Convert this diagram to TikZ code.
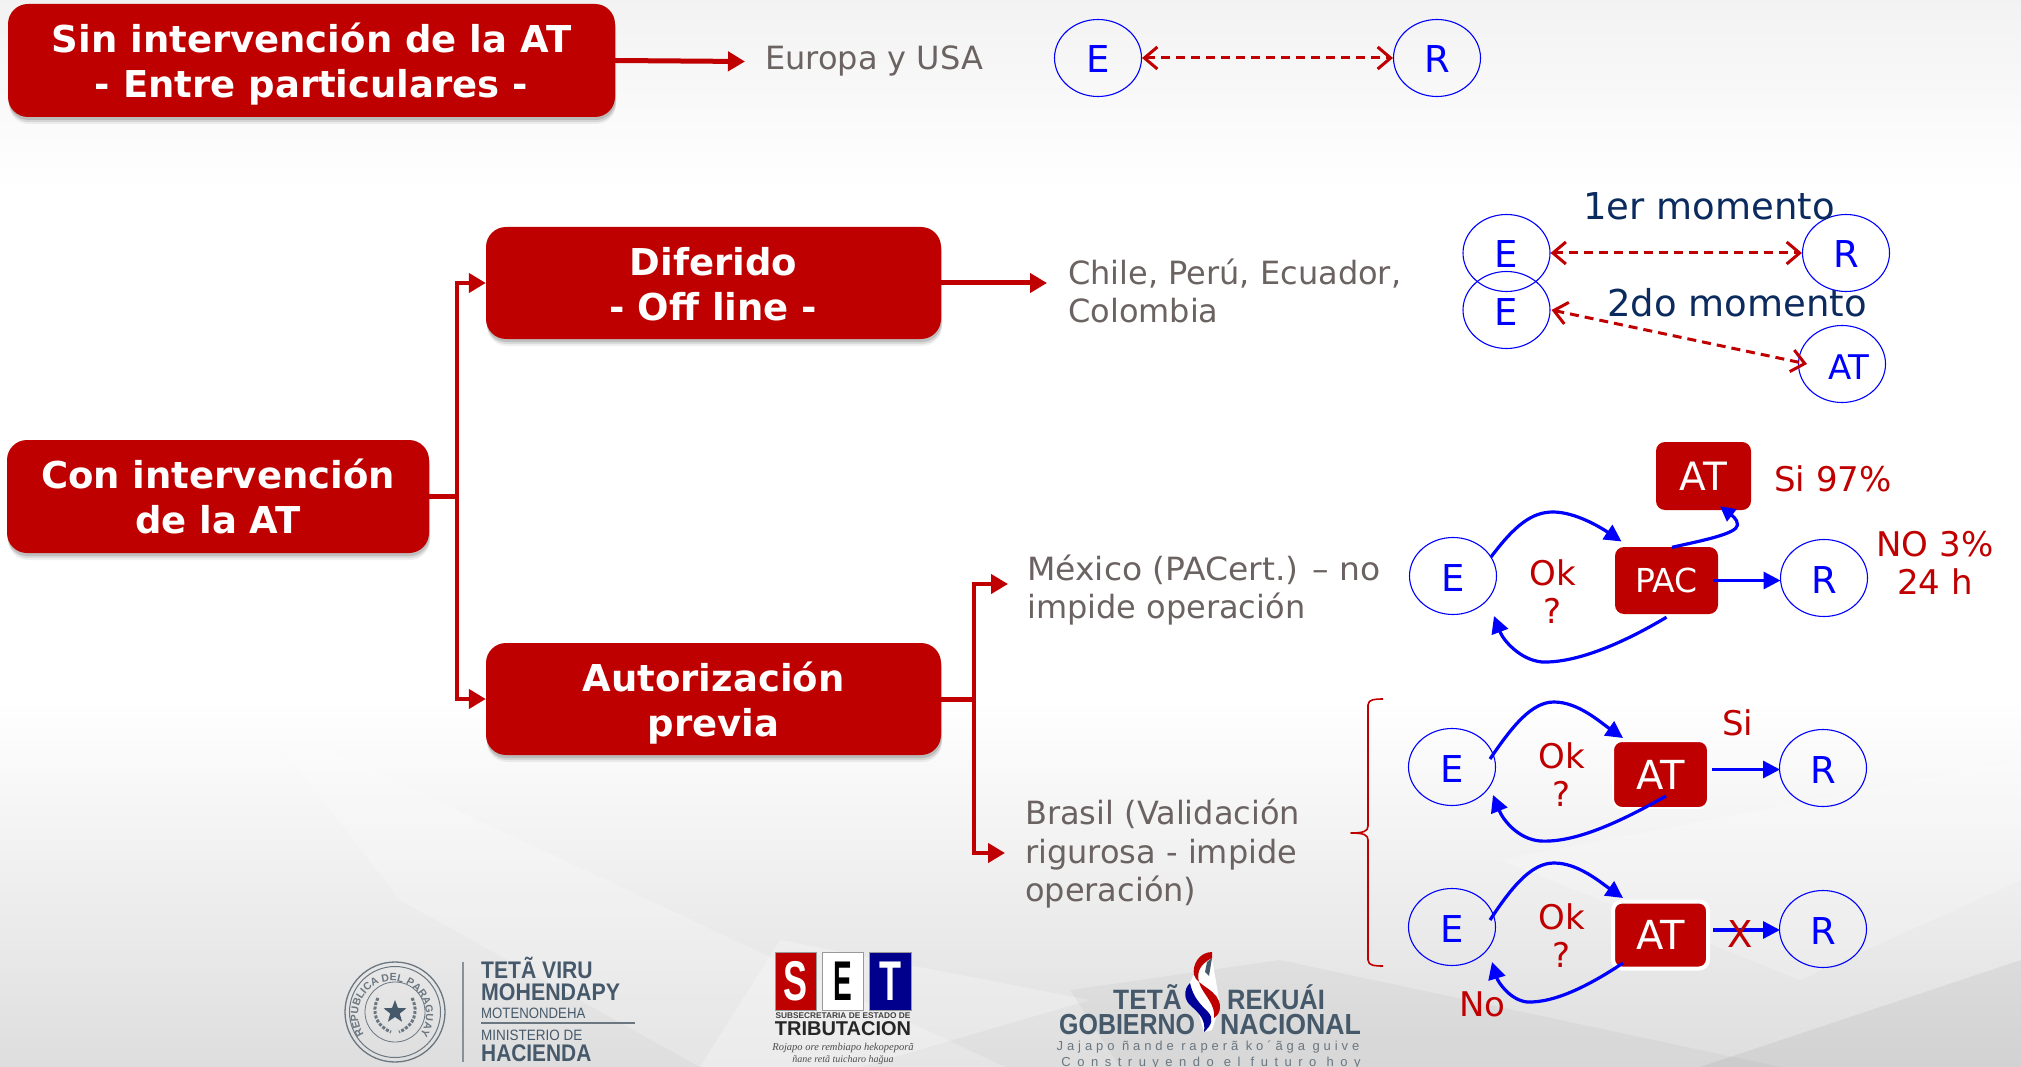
\documentclass[tikz,border=0pt]{standalone}
\usepackage{fontspec}
\setmainfont{DejaVu Sans}
\newfontfamily\logofont{Liberation Sans}
\newfontfamily\cursivefont{Liberation Serif}
\usetikzlibrary{arrows.meta,shapes.geometric,shadows,decorations.text}
\definecolor{boxred}{HTML}{BE0000}
\definecolor{linered}{HTML}{C00000}
\definecolor{greytext}{HTML}{6B6361}
\definecolor{navytext}{HTML}{0B2A5E}
\definecolor{logoslate}{HTML}{46596A}
\definecolor{logogrey}{HTML}{6A7680}
\newcommand\fsz[2]{\fontsize{#1}{#2}\selectfont}
\newcommand\dn[2]{\raisebox{-#1pt}[\height][\depth]{#2}}
\tikzset{
  mainbox/.style={draw=none,fill=boxred,rounded corners=20pt,text=white,align=center,inner sep=0pt,
    font=\bfseries\fsz{37}{45},
    general shadow={shadow xshift=1pt,shadow yshift=-7pt,opacity=.06,fill=black},
    general shadow={shadow xshift=1pt,shadow yshift=-5pt,opacity=.09,fill=black},
    general shadow={shadow xshift=.5pt,shadow yshift=-3pt,opacity=.12,fill=black}},
  smallbox/.style={fill=boxred,rounded corners=9pt,text=white,inner sep=0pt,minimum width=95pt,minimum height=67pt,font=\fsz{40}{46}},
  party/.style={ellipse,draw=blue,line width=1.1pt,text=blue,inner sep=0pt,minimum width=87pt,minimum height=77pt,font=\fsz{37}{44},text height=30pt,text depth=0pt},
  greylabel/.style={text=greytext,anchor=west,align=left,inner sep=0pt,font=\fsz{32}{38.5}},
  redlabel/.style={text=linered,align=center,inner sep=0pt,font=\fsz{34}{38}},
  navylabel/.style={text=navytext,inner sep=0pt,font=\fsz{37}{44}},
  redarrow/.style={draw=linered,line width=5pt,-{Triangle[length=17pt,width=19pt]}},
  redline/.style={draw=linered,line width=5pt},
  dasharrow/.style={draw=linered,line width=3pt,dash pattern=on 9pt off 6pt,{Straight Barb[length=13pt,width=22pt]}-{Straight Barb[length=13pt,width=22pt]}},
  bluearrow/.style={draw=blue,line width=3.2pt,-{Triangle[length=17pt,width=17pt]}},
  logotext/.style={inner sep=0pt,text=logoslate,font=\logofont\bfseries},
}
\begin{document}
\begin{tikzpicture}[x=1pt,y=-1pt]
\useasboundingbox (0,0) rectangle (2021,1067);
% background
\shade[top color=black!5,bottom color=white] (0,0) rectangle (2021,190);
\fill[white] (0,190) rectangle (2021,700);
\shade[top color=white,bottom color=black!13] (0,700) rectangle (2021,1067);
\fill[white,opacity=.22] (258,717) -- (1005,1067) -- (700,1067) -- (400,900) -- cycle;
\fill[white,opacity=.25] (780,940) -- (1090,1000) -- (860,1067) -- (700,1067) -- cycle;
\fill[black,opacity=.03] (1070,990) -- (1280,960) -- (1780,1067) -- (1120,1067) -- cycle;
\fill[black,opacity=.05] (1700,1067) -- (2021,960) -- (2021,1067) -- cycle;
\fill[white,opacity=.2] (1500,860) -- (2021,760) -- (2021,880) -- (1800,980) -- cycle;

% main boxes
\node[mainbox,minimum width=607pt,minimum height=113pt] (sin) at (311.5,60.5) {\dn{4}{Sin intervención de la AT}\\\dn{4}{- Entre particulares -}};
\node[mainbox,minimum width=422pt,minimum height=113pt] (con) at (218,496.5) {Con intervención\\de la AT};
\node[mainbox,minimum width=455pt,minimum height=112pt] (dif) at (713.5,283) {\dn{1}{Diferido}\\\dn{1}{- Off line -}};
\node[mainbox,minimum width=455pt,minimum height=112pt] (aut) at (713.5,699) {\dn{4}{Autorización}\\\dn{4}{previa}};

% grey labels
\node[greylabel] (eur) at (765,60.5) {Europa y USA};
\node[greylabel] (chi) at (1068,291) {Chile, Perú, Ecuador,\\Colombia};
\node[greylabel] (mex) at (1027,590) {\scalebox{1.03}[1]{México (PACert.) – no}\\impide operación};
\node[greylabel] (bra) at (1025,854) {Brasil (Validación\\rigurosa - impide\\operación)};

% free ends and elbows
\coordinate (eurtip) at (745,61.5);
\coordinate (chitip) at (1047,283);
\coordinate (trunkA) at (457,496.5);
\coordinate (trunkB) at (974,699);
\coordinate (mextip) at (1008,584);
\coordinate (bratip) at (1005,853);

\draw[redarrow] (sin.east) -- (eurtip);
\draw[redarrow] (dif.east) -- (chitip);
\draw[redline] (con.east) -- (trunkA);
\draw[redarrow,line width=4.5pt] (trunkA) |- (dif.west);
\draw[redarrow,line width=4.5pt] (trunkA) |- (aut.west);
\draw[redline] (aut.east) -- (trunkB);
\draw[redarrow,line width=4.5pt] (trunkB) |- (mextip);
\draw[redarrow,line width=4.5pt] (trunkB) |- (bratip);

% top: Europa
\node[party] (e0) at (1098,58) {E};
\node[party] (r0) at (1437,58) {R};
\draw[dasharrow] (e0) -- (r0);

% diferido
\node[party] (e1) at (1506.5,253) {E};
\node[party] (r1) at (1846,253) {R};
\node[party] (e2) at (1506.5,310) {E};
\node[party,font=\fsz{34}{40}] (a2) at (1842,364) {\hspace*{14pt}AT};
\draw[dasharrow] (e1) -- (r1);
\draw[dasharrow] (e2.east) ++(1,0) -- ([shift={(-35,0)}]a2.center);
\node[navylabel] (mom1) at (1709,206) {1er momento};
\node[navylabel] (mom2) at (1737,303) {2do momento};

% México row
\node[party] (e3) at (1453,576) {E};
\node[smallbox,minimum width=103pt,font=\fsz{33}{38}] (pac) at (1666.5,580.5) {PAC};
\node[smallbox,minimum height=68pt,font=\fsz{39}{46}] (at3) at (1703.5,476) {AT};
\node[party] (r3) at (1824,578) {R};
\node[redlabel] (ok3) at (1553,592) {Ok\\?};
\node[redlabel] (si3) at (1833,479) {Si 97\%};
\node[redlabel] (no3) at (1935,563) {NO 3\%\\24 h};
\draw[bluearrow] ([shift={(38,-19)}]e3.center) .. controls (1515,525) and (1532,512) .. (1553,512) .. controls (1575,512) and (1600,527) .. ([shift={(-45,-39)}]pac.center);
\draw[bluearrow,-{Triangle[length=15pt,width=15pt]}] ([shift={(5.5,0.5)}]pac.north) .. controls (1700,541) and (1737,534) .. (1737.5,525) .. controls (1738,519) and (1730,514) .. ([shift={(16.5,-4)}]at3.south);
\draw[bluearrow] ([shift={(0,3)}]pac.south) .. controls (1620,645) and (1575,663) .. (1542,662) .. controls (1520,660) and (1503,640) .. ([shift={(41,40)}]e3.center);
\draw[bluearrow] ([shift={(-5,0)}]pac.east) -- ([shift={(-43.5,2.5)}]r3.center);

% Brasil row 1
\node[party] (e4) at (1452,767) {E};
\node[smallbox,draw=white,line width=2pt] (at4) at (1660.5,774.5) {AT};
\node[party] (r4) at (1823,768) {R};
\node[redlabel] (ok4) at (1561.5,775) {Ok\\?};
\node[redlabel] (si4) at (1737.5,723) {Si};
\draw[bluearrow] ([shift={(38,-8)}]e4.center) .. controls (1513,725) and (1532,702) .. (1554,702) .. controls (1578,702) and (1600,722) .. ([shift={(-37.5,-36.5)}]at4.center);
\draw[bluearrow] ([shift={(5.5,21.5)}]at4.center) .. controls (1620,822) and (1575,843) .. (1540,841) .. controls (1518,839) and (1503,820) .. ([shift={(41,28)}]e4.center);
\draw[bluearrow] ([shift={(3,-5)}]at4.east) -- ([shift={(-43,1.5)}]r4.center);

% Brasil row 2
\node[party] (e5) at (1452,927) {E};
\node[smallbox,draw=white,line width=4pt] (at5) at (1660.5,935) {AT};
\node[party] (r5) at (1823,929) {R};
\node[redlabel] (ok5) at (1561.5,935.5) {Ok\\?};
\node[redlabel] (no5) at (1482.5,1004) {No};
\draw[bluearrow] ([shift={(38,-7)}]e5.center) .. controls (1513,885) and (1532,863) .. (1554,863) .. controls (1578,863) and (1600,882) .. ([shift={(-37.5,-37)}]at5.center);
\draw[bluearrow] ([shift={(-37.5,28)}]at5.center) .. controls (1590,985) and (1555,1003) .. (1527,1002) .. controls (1510,1000) and (1498,982) .. ([shift={(40,35)}]e5.center);
\draw[bluearrow] ([shift={(3,-5)}]at5.east) -- ([shift={(-43,1)}]r5.center);
\node[redlabel,font=\fsz{37}{44}] (x5) at (1740.5,934) {X};

% brace
\draw[linered,line width=1.6pt,line join=round] (1383,699) .. controls (1376,699) and (1368,699) .. (1368,705) -- (1368,826) .. controls (1368,831) and (1364,833) .. (1351,833) .. controls (1364,833) and (1368,835) .. (1368,840) -- (1368,960) .. controls (1368,966) and (1376,966) .. (1383,966);

% footer: seal
\node[circle,draw=logogrey,line width=1.3pt,inner sep=0pt,minimum size=100pt] (seal) at (395,1012) {};
\node[circle,draw=logogrey,line width=1pt,inner sep=0pt,minimum size=91pt] (sealb) at (395,1012) {};
\node[circle,draw=logogrey,line width=.8pt,inner sep=0pt,minimum size=60pt] (sealc) at (395,1012) {};
\path[decorate,decoration={text along path,text align=center,text={|\logofont\bfseries\fontsize{10.5}{10.5}\selectfont\color{logogrey}|REPUBLICA DEL PARAGUAY}}] (368,1039) arc[start angle=225,end angle=-45,radius=34pt];
\node[star,star points=5,star point ratio=2.4,fill=logoslate,inner sep=0pt,minimum size=24pt] (sealstar) at (395,1012) {};
\draw[logogrey,line width=3pt,dash pattern=on 3pt off 1.5pt] (378,998) .. controls (371,1012) and (376,1026) .. (391,1032);
\draw[logogrey,line width=3pt,dash pattern=on 3pt off 1.5pt] (412,998) .. controls (419,1012) and (414,1026) .. (399,1032);
\draw[logogrey!80,line width=1.4pt] (463,962) -- (463,1062);
\node[logotext,anchor=west] (t1) at (481,968) {\fsz{24}{24}\scalebox{.88}[1]{TETÃ VIRU}};
\node[logotext,anchor=west] (t2) at (481,992.5) {\fsz{24}{24}\scalebox{.89}[1]{MOHENDAPY}};
\node[logotext,anchor=west,font=\logofont] (t3) at (481,1013) {\fsz{15}{15}\scalebox{.88}[1]{MOTENONDEHA}};
\draw[logogrey,line width=1.5pt] (481,1023) -- (635,1023);
\node[logotext,anchor=west,font=\logofont] (t4) at (481,1035) {\fsz{15}{15}\scalebox{.9}[1]{MINISTERIO DE}};
\node[logotext,anchor=west] (t5) at (481,1053) {\fsz{24}{24}\scalebox{.87}[1]{HACIENDA}};

% footer: SET
\node[fill=red!75!black,draw=black!40,line width=.5pt,minimum width=41pt,minimum height=58pt,inner sep=0pt,text=white,font=\logofont\bfseries] (setS) at (795.5,981) {\fsz{40}{40}\scalebox{.9}[1.4]{S}};
\node[fill=white,draw=black!40,line width=.5pt,minimum width=41pt,minimum height=58pt,inner sep=0pt,text=black,font=\logofont\bfseries] (setE) at (842.5,981) {\fsz{40}{40}\scalebox{.7}[1.4]{E}};
\node[fill=blue!55!black,draw=black!40,line width=.5pt,minimum width=42pt,minimum height=58pt,inner sep=0pt,text=white,font=\logofont\bfseries] (setT) at (890,981) {\fsz{40}{40}\scalebox{.9}[1.4]{T}};
\node[inner sep=0pt,font=\logofont\bfseries,text=black!75] (set1) at (843,1016) {\fsz{8.3}{9}SUBSECRETARIA DE ESTADO DE};
\node[inner sep=0pt,font=\logofont\bfseries,text=black!85] (set2) at (843,1029) {\fsz{20}{20}TRIBUTACION};
\node[inner sep=0pt,font=\cursivefont\itshape,text=black!70,align=center] (set3) at (843,1054) {\fsz{10.5}{14}Rojapo ore rembiapo hekopeporã\\ñane retã tuicharo hağua};

% footer: Gobierno
\fill[white] (1198,965) -- (1212,958) -- (1220,1005) -- (1212,1030) -- (1204,1032) -- (1190,983) -- cycle;
\fill[logoslate] (1207,962) -- (1212,958) -- (1209,976) -- (1205,972) -- cycle;
\fill[red!75!black] (1212,952) .. controls (1199,952) and (1192,965) .. (1194,975) .. controls (1197,986) and (1220,990) .. (1220,1007) .. controls (1220,1012) and (1218,1015) .. (1214,1018) .. controls (1216,1005) and (1204,995) .. (1200,985) .. controls (1196,975) and (1198,965) .. (1212,958) -- cycle;
\fill[blue!60!black] (1190,983) .. controls (1183,990) and (1184,1000) .. (1191,1006) .. controls (1199,1013) and (1206,1020) .. (1204,1032) .. controls (1212,1025) and (1214,1018) .. (1208,1012) .. controls (1200,1004) and (1193,997) .. (1190,983) -- cycle;
\node[logotext,anchor=west] (g1) at (1113,997) {\fsz{28}{28}\scalebox{.94}[1]{TETÃ}};
\node[logotext,anchor=west] (g2) at (1227,997) {\fsz{28}{28}\scalebox{.91}[1]{REKUÁI}};
\node[logotext,anchor=west] (g3) at (1059,1025) {\fsz{29}{29}\scalebox{.86}[1]{GOBIERNO}};
\node[logotext,anchor=west] (g4) at (1220,1025) {\fsz{29}{29}\scalebox{.92}[1]{NACIONAL}};
\node[inner sep=0pt,font=\logofont,text=logogrey] (g5) at (1208,1047) {\fsz{13}{13}\addfontfeatures{LetterSpace=30}Jajapo ñande raperã ko´ãga guive};
\node[inner sep=0pt,font=\logofont,text=logogrey] (g6) at (1211,1063) {\fsz{13}{13}\addfontfeatures{LetterSpace=50}Construyendo el futuro hoy};
\end{tikzpicture}
\end{document}
